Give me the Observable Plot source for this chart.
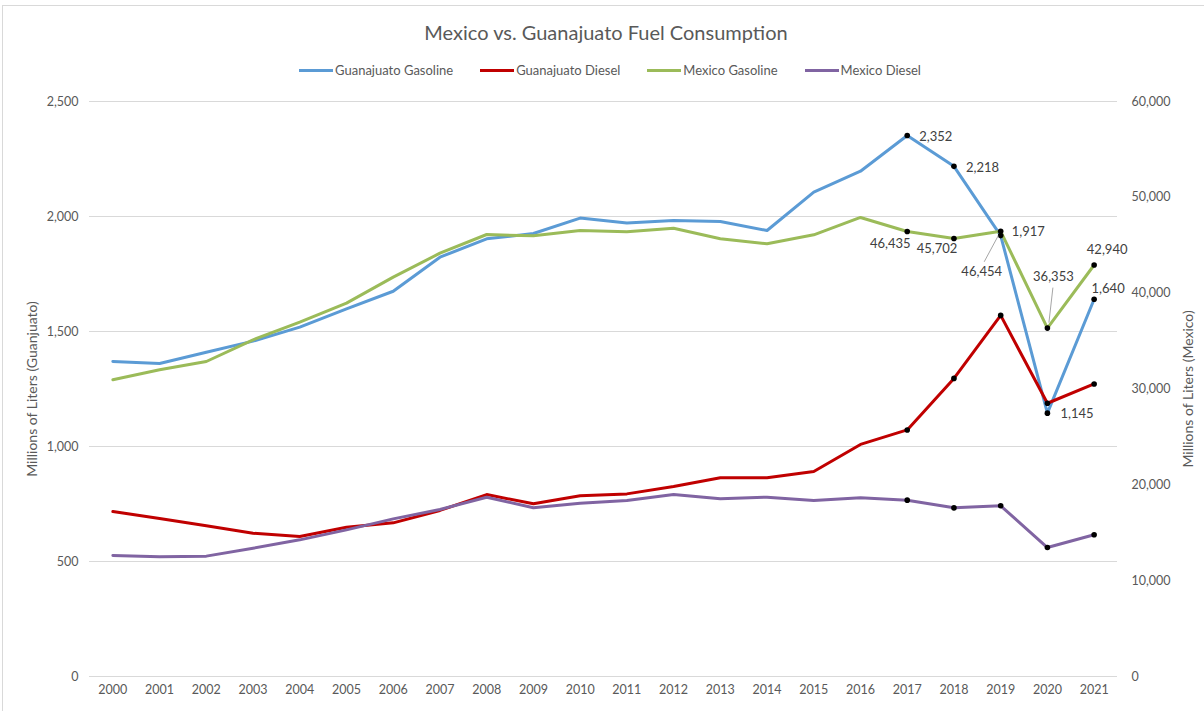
<!DOCTYPE html>
<html>
<head>
<meta charset="utf-8">
<script src="https://cdn.jsdelivr.net/npm/d3@7"></script>
<script src="https://cdn.jsdelivr.net/npm/@observablehq/plot@0.6"></script>
<style>
  html, body { margin: 0; padding: 0; background: #fff; }
  #wrap { position: relative; width: 1204px; height: 711px; overflow: hidden; font-family: Lato, "Open Sans", sans-serif; }
  #border { position: absolute; left: 2px; top: 5px; width: 1300px; height: 800px; border-top: 1px solid #d9d9d9; border-left: 1px solid #d9d9d9; }
  #title { position: absolute; top: 19px; left: 4px; width: 1204px; text-align: center; font-size: 20px; line-height: 26px; color: #595959; }
  #legend { position: absolute; top: 61px; left: 8px; width: 1204px; display: flex; justify-content: center; gap: 27px; font-size: 13px; line-height: 18px; color: #595959; }
  .item { display: flex; align-items: center; }
  .sw { width: 34px; height: 3px; margin-right: 2px; }
  #chart { position: absolute; top: 84px; left: 0; }
</style>
</head>
<body>
<div id="wrap">
  <div id="border"></div>
  <div id="title">Mexico vs. Guanajuato Fuel Consumption</div>
  <div id="legend"></div>
  <div id="chart"></div>
</div>
<script>
// ---- data ----
const years = [2000, 2001, 2002, 2003, 2004, 2005, 2006, 2007, 2008, 2009, 2010,
               2011, 2012, 2013, 2014, 2015, 2016, 2017, 2018, 2019, 2020, 2021];
const gtoGasoline = [1370, 1361, 1410, 1458, 1519, 1598, 1675, 1823, 1903, 1926, 1993,
                     1972, 1983, 1978, 1939, 2106, 2197, 2352, 2218, 1917, 1145, 1640];
const gtoDiesel = [717, 687, 655, 623, 609, 649, 668, 722, 791, 751, 786,
                   794, 826, 864, 864, 891, 1009, 1072, 1296, 1570, 1188, 1272];
const mexGasoline = [30960, 32000, 32870, 35130, 36970, 38960, 41670, 44170, 46120, 45980, 46540,
                     46400, 46780, 45670, 45150, 46090, 47900, 46435, 45702, 46454, 36353, 42940];
const mexDiesel = [12630, 12490, 12560, 13390, 14260, 15300, 16450, 17430, 18710, 17600, 18080,
                   18360, 18990, 18540, 18710, 18360, 18640, 18400, 17600, 17810, 13460, 14790];
const leftTicks = [0, 500, 1000, 1500, 2000, 2500];
const rightTicks = [0, 10000, 20000, 30000, 40000, 50000, 60000];
const seriesNames = ["Guanajuato Gasoline", "Guanajuato Diesel", "Mexico Gasoline", "Mexico Diesel"];
const seriesColors = ["#5B9BD5", "#C00000", "#9BBB59", "#8064A2"];

// secondary axis ratio (60,000 on right == 2,500 on left)
const ratio = rightTicks[rightTicks.length - 1] / leftTicks[leftTicks.length - 1];
const fmt = d3.format(",");

const rows = years.map((year, i) => ({
  year,
  gtoGas: gtoGasoline[i],
  gtoDsl: gtoDiesel[i],
  mexGas: mexGasoline[i],
  mexDsl: mexDiesel[i]
}));

// legend
const legend = document.getElementById("legend");
seriesNames.forEach((name, i) => {
  const it = document.createElement("div");
  it.className = "item";
  it.innerHTML = `<span class="sw" style="background:${seriesColors[i]}"></span><span>${name}</span>`;
  legend.appendChild(it);
});

const markedRows = rows.filter(d => d.year >= 2017);
const byYear = y => rows.find(d => d.year === y);

function label(year, key, scale, opts) {
  const d = byYear(year);
  return Plot.text([d], {
    x: "year",
    y: r => r[key] / scale,
    text: r => fmt(r[key]),
    fill: "#404040",
    fontSize: 13,
    ...opts
  });
}

function leader(year, key, scale, ax1, ay1, ax2, ay2) {
  return (index, scales) => {
    const d = byYear(year);
    const x = scales.x(d.year), y = scales.y(d[key] / scale);
    const ln = document.createElementNS("http://www.w3.org/2000/svg", "line");
    ln.setAttribute("x1", x + ax1); ln.setAttribute("y1", y + ay1);
    ln.setAttribute("x2", x + ax2); ln.setAttribute("y2", y + ay2);
    ln.setAttribute("stroke", "#a6a6a6");
    ln.setAttribute("stroke-width", 1);
    return ln;
  };
}

const lineOpts = { x: "year", strokeWidth: 3, strokeLinejoin: "round", strokeLinecap: "round" };

const chart = Plot.plot({
  width: 1204,
  height: 627,
  marginTop: 17,
  marginBottom: 35,
  marginLeft: 89,
  marginRight: 87,
  style: { fontFamily: "Lato, 'Open Sans', sans-serif", fontSize: "12px", color: "#595959", background: "transparent" },
  x: { type: "point", domain: years, padding: 0.5, round: false },
  y: { domain: [0, 2500] },
  marks: [
    Plot.ruleY(leftTicks, { stroke: "#d9d9d9", strokeWidth: 1 }),
    Plot.axisX({ tickSize: 0, tickPadding: 9, tickFormat: d => String(d), label: null, fill: "#595959", fontSize: 12.5 }),
    Plot.axisY(leftTicks, { anchor: "left", tickSize: 0, tickPadding: 11, tickFormat: fmt, label: null, fill: "#595959", fontSize: 12.5 }),
    Plot.axisY(rightTicks.map(v => v / ratio), { anchor: "right", tickSize: 0, tickPadding: 14, tickFormat: d => fmt(Math.round(d * ratio)), label: null, fill: "#595959", fontSize: 12.5 }),
    Plot.text(["Millions of Liters (Guanjuato)"], { frameAnchor: "left", textAnchor: "middle", dx: -57, rotate: -90, text: d => d, fontSize: 14, fill: "#595959" }),
    Plot.text(["Millions of Liters (Mexico)"], { frameAnchor: "right", textAnchor: "middle", dx: 71, rotate: -90, text: d => d, fontSize: 14, fill: "#595959" }),

    Plot.line(rows, { ...lineOpts, y: "gtoGas", stroke: seriesColors[0] }),
    Plot.line(rows, { ...lineOpts, y: "gtoDsl", stroke: seriesColors[1] }),
    Plot.line(rows, { ...lineOpts, y: d => d.mexGas / ratio, stroke: seriesColors[2] }),
    Plot.line(rows, { ...lineOpts, y: d => d.mexDsl / ratio, stroke: seriesColors[3] }),

    Plot.dot(markedRows, { x: "year", y: "gtoGas", r: 2.8, fill: "black" }),
    Plot.dot(markedRows, { x: "year", y: "gtoDsl", r: 2.8, fill: "black" }),
    Plot.dot(markedRows, { x: "year", y: d => d.mexGas / ratio, r: 2.8, fill: "black" }),
    Plot.dot(markedRows, { x: "year", y: d => d.mexDsl / ratio, r: 2.8, fill: "black" }),

    // Guanajuato gasoline labels
    label(2017, "gtoGas", 1, { textAnchor: "start", dx: 12, dy: 1 }),
    label(2018, "gtoGas", 1, { textAnchor: "start", dx: 12, dy: 1 }),
    label(2019, "gtoGas", 1, { textAnchor: "start", dx: 11, dy: -4 }),
    label(2020, "gtoGas", 1, { textAnchor: "start", dx: 13, dy: 1 }),
    label(2021, "gtoGas", 1, { textAnchor: "middle", dx: 14, dy: -10 }),
    // Mexico gasoline labels
    label(2017, "mexGas", ratio, { textAnchor: "middle", dx: -17, dy: 12 }),
    label(2018, "mexGas", ratio, { textAnchor: "middle", dx: -17, dy: 10 }),
    label(2019, "mexGas", ratio, { textAnchor: "middle", dx: -19, dy: 41 }),
    label(2020, "mexGas", ratio, { textAnchor: "middle", dx: 6, dy: -51 }),
    label(2021, "mexGas", ratio, { textAnchor: "middle", dx: 13, dy: -15 }),
    leader(2019, "mexGas", ratio, -2, 5, -16, 31),
    leader(2020, "mexGas", ratio, 6, -40, 2, -5)
  ]
});
document.getElementById("chart").appendChild(chart);
</script>
</body>
</html>
